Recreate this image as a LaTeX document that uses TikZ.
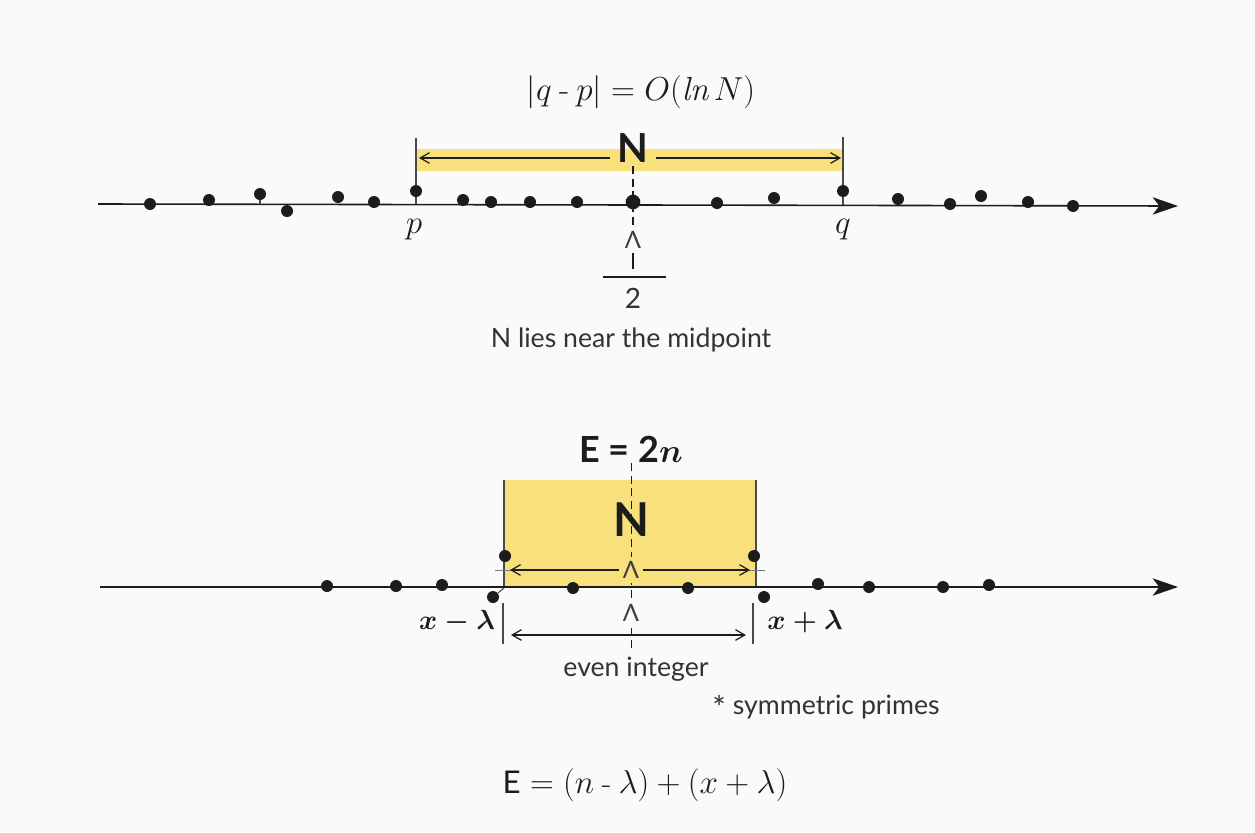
\documentclass[tikz,border=0pt]{standalone}
\usepackage{amsmath}
\usepackage{fontspec}
\setsansfont{Lato}
\usetikzlibrary{arrows.meta}
\definecolor{bgc}{HTML}{FAFAFA}
\definecolor{bandfill}{HTML}{F8E07C}
\definecolor{ink}{HTML}{1C1C1C}
\definecolor{thinc}{HTML}{7A7A7A}
\tikzset{
  dot/.style={circle,fill=ink,inner sep=0pt,minimum size=9pt},
  bigdot/.style={circle,fill=ink,inner sep=0pt,minimum size=11pt},
  axis/.style={draw=ink,line width=1.2pt,-{Stealth[length=19pt,width=13pt,inset=5pt]}},
  dimarrow/.style={draw=ink,line width=0.9pt,-{Straight Barb[length=7pt,width=8pt]}},
  dimboth/.style={draw=ink,line width=0.9pt,{Straight Barb[length=7pt,width=8pt]}-{Straight Barb[length=7pt,width=8pt]}},
  vline/.style={draw=ink!80,line width=0.8pt},
  midline/.style={draw=ink,line width=0.9pt,dash pattern=on 6pt off 3.5pt},
  boldN/.style={font=\sffamily\bfseries\fontsize{30}{34}\selectfont,text=ink,inner sep=0pt},
  lab/.style={font=\sffamily\fontsize{20}{24}\selectfont,text=ink!90,inner sep=0pt},
  mathlab/.style={font=\fontsize{25}{30}\selectfont,text=ink,inner sep=0pt},
  lam/.style={font=\sffamily\fontsize{18}{22}\selectfont,text=ink!85,inner sep=0pt},
}
\begin{document}
\begin{tikzpicture}[x=0.75pt,y=-0.75pt]
\fill[fill=bgc] (0,0) rectangle (1255,832);
\useasboundingbox (0,0) rectangle (1255,832);

% ---------------- top part ----------------
\node[mathlab] (title) at (641,92) {$|q \mathbin{\textrm{-}} p| = O(\mathit{ln}\,N)$};

\fill[fill=bandfill] (416,149) rectangle (843,171);

% dashed midline
\coordinate (m1t) at (633,166);
\coordinate (m1b) at (633,226);
\draw[midline] (m1t) -- (m1b);

% axis
\coordinate (a1s) at (98,204);
\coordinate (a1e) at (1178,206);
\draw[axis] (a1s) -- (a1e);

% p and q markers
\coordinate (pT) at (416,138);
\coordinate (pB) at (416,204);
\coordinate (qT) at (843,137);
\coordinate (qB) at (843,205);
\draw[vline] (pT) -- (pB);
\draw[vline] (qT) -- (qB);
\node[dot] (pd) at (416,191) {};
\node[dot] (qd) at (843,191) {};

% other primes on top axis
\foreach \x/\y [count=\i] in {150/204,209/200,260/194,287/211,338/197,374/202,463/200,491/202,530/202,577/202,717/203,774/198,898/199,950/204,981/196,1028/202,1073/206}
  \node[dot] (t\i) at (\x,\y) {};
\node[bigdot] (mid1) at (633,202) {};
\draw[vline] (t3) -- (260,204);

% N with arrows in the band
\node[boldN] (N1) at (633,148) {N};
\coordinate (arL) at (419,158);
\coordinate (arR) at (841,158);
\coordinate (arLs) at (610,158);
\coordinate (arRs) at (656,158);
\draw[dimarrow] (arLs) -- (arL);
\draw[dimarrow] (arRs) -- (arR);

% labels
\node[mathlab,font=\fontsize{28}{32}\selectfont] (plab) at (414,230) {$p$};
\node[mathlab,font=\fontsize{28}{32}\selectfont] (qlab) at (843,230) {$q$};
\node[lam] (L1) at (633,240) {Λ};
\coordinate (tk1t) at (633,253);
\coordinate (tk1b) at (633,269);
\draw[draw=ink,line width=0.9pt] (tk1t) -- (tk1b);
\coordinate (fr1) at (603,277);
\coordinate (fr2) at (666,277);
\draw[draw=ink,line width=0.9pt] (fr1) -- (fr2);
\node[lab,font=\sffamily\fontsize{21}{24}\selectfont] (two) at (633,298) {2};
\node[lab] (mid) at (631,340) {N lies near the midpoint};

% ---------------- bottom part ----------------
\node[font=\sffamily\bfseries\fontsize{27}{30}\selectfont,text=ink,inner sep=0pt] (E2n) at (631,449) {E = 2$\boldsymbol{n}$};

\fill[fill=bandfill] (504,480) rectangle (756,588);
\coordinate (bxLt) at (504,480);
\coordinate (bxLb) at (504,588);
\coordinate (bxRt) at (756,480);
\coordinate (bxRb) at (756,588);
\draw[vline] (bxLt) -- (bxLb);
\draw[vline] (bxRt) -- (bxRb);

\coordinate (m2t) at (631,463);
\coordinate (m2b) at (631,648);
\draw[midline,line width=0.7pt] (m2t) -- (m2b);

\node[boldN,font=\sffamily\bfseries\fontsize{35}{40}\selectfont] (N2) at (631,520) {N};

% inner Lambda arrow line
\coordinate (hl1) at (495,570);
\coordinate (hl2) at (765,570);
\draw[draw=thinc,line width=0.5pt] (hl1) -- (hl2);
\node[lam,fill=bandfill,inner sep=3pt] (L2) at (631,570) {Λ};
\coordinate (ia1) at (510,570);
\coordinate (ia2) at (750,570);
\draw[dimarrow] (L2.west) -- (ia1);
\draw[dimarrow] (L2.east) -- (ia2);

% axis
\coordinate (a2s) at (100,587);
\coordinate (a2e) at (1178,587);
\draw[axis] (a2s) -- (a2e);

\foreach \x/\y [count=\i] in {327/586,396/586,442/585,573/588,688/588,818/584,869/587,943/587,989/585}
  \node[dot] (b\i) at (\x,\y) {};
\node[dot] (xl) at (493,597) {};
\node[dot] (xlU) at (505,556) {};
\node[dot] (xr) at (764,597) {};
\node[dot] (xrU) at (754,556) {};
\draw[vline] (xl) -- (bxLb);

% lower dimension
\node[lam,fill=bgc,inner sep=2pt] (L3) at (631,613) {Λ};
\coordinate (tkLt) at (503,603);
\coordinate (tkLb) at (503,644);
\coordinate (tkRt) at (753,603);
\coordinate (tkRb) at (753,644);
\draw[vline] (tkLt) -- (tkLb);
\draw[vline] (tkRt) -- (tkRb);
\coordinate (da1) at (511,635);
\coordinate (da2) at (746,635);
\draw[dimboth] (da1) -- (da2);

\node[mathlab,font=\fontsize{22}{26}\selectfont\boldmath] (xml) at (457,622) {$x-\lambda$};
\node[mathlab,font=\fontsize{22}{26}\selectfont\boldmath] (xpl) at (805,622) {$x+\lambda$};

\node[lab] (even) at (636,669) {even integer};
\node[lab] (sym) at (826,707) {{\fontsize{24}{24}\selectfont\raisebox{-0.3ex}{*}} symmetric primes};

\node[mathlab,font=\fontsize{23.5}{28}\selectfont] (Eform) at (645,785) {\textsf{E} $= (n \mathbin{\textrm{-}} \lambda) + (x + \lambda)$};
\end{tikzpicture}
\end{document}
